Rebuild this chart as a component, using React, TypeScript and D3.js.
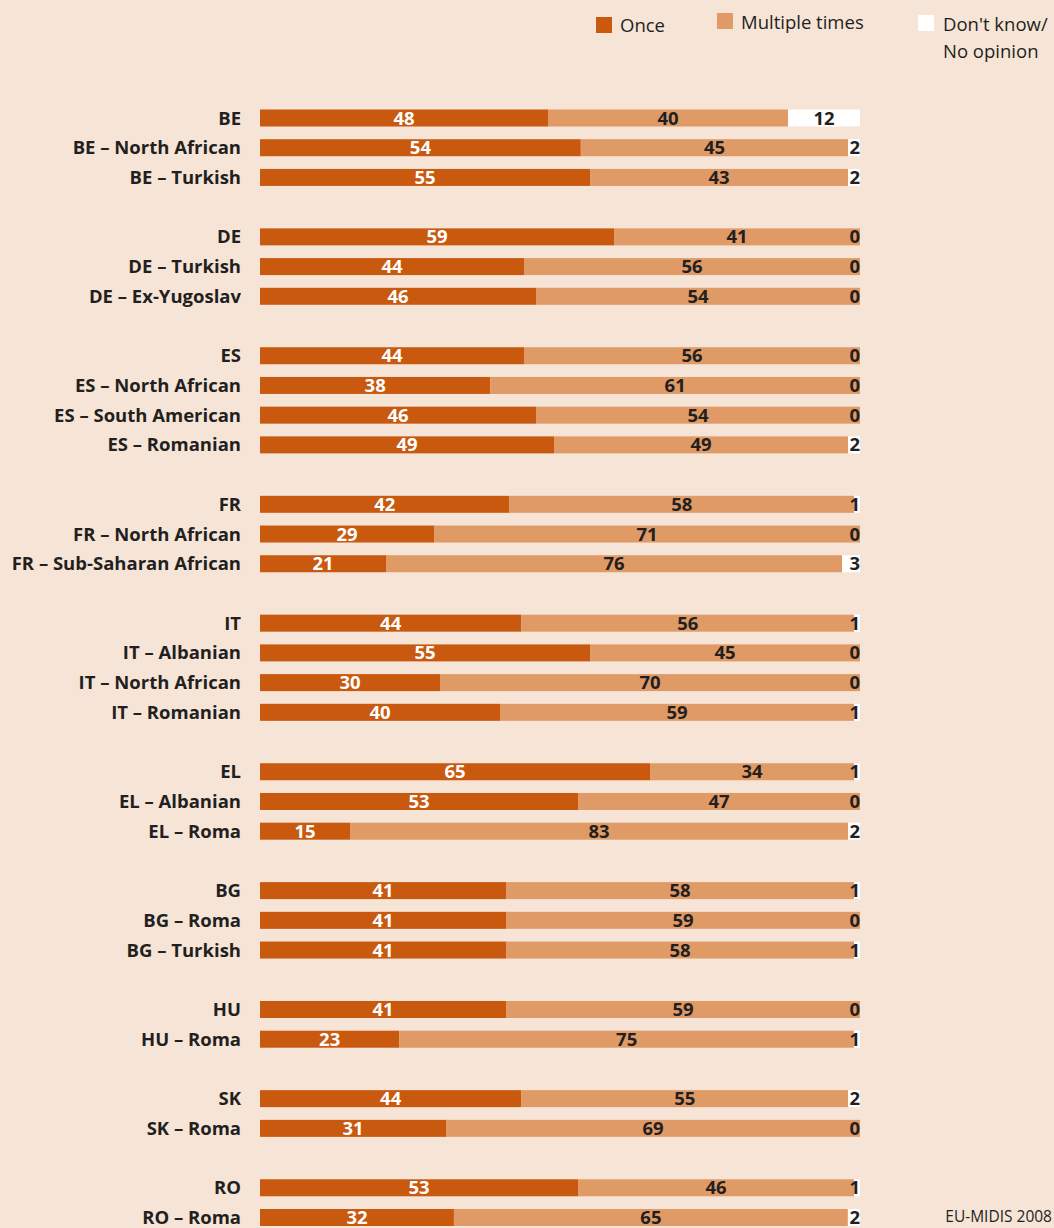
import React from "react";
import * as d3 from "d3";

const groups: string[][] = [
  ["BE", "BE – North African", "BE – Turkish"],
  ["DE", "DE – Turkish", "DE – Ex-Yugoslav"],
  ["ES", "ES – North African", "ES – South American", "ES – Romanian"],
  ["FR", "FR – North African", "FR – Sub-Saharan African"],
  ["IT", "IT – Albanian", "IT – North African", "IT – Romanian"],
  ["EL", "EL – Albanian", "EL – Roma"],
  ["BG", "BG – Roma", "BG – Turkish"],
  ["HU", "HU – Roma"],
  ["SK", "SK – Roma"],
  ["RO", "RO – Roma"],
];

const categories: string[] = groups.flat();
const once: number[] = [48, 54, 55, 59, 44, 46, 44, 38, 46, 49, 42, 29, 21, 44, 55, 30, 40, 65, 53, 15, 41, 41, 41, 41, 23, 44, 31, 53, 32];
const multiple: number[] = [40, 45, 43, 41, 56, 54, 56, 61, 54, 49, 58, 71, 76, 56, 45, 70, 59, 34, 47, 83, 58, 59, 58, 59, 75, 55, 69, 46, 65];
const dontKnow: number[] = [12, 2, 2, 0, 0, 0, 0, 0, 0, 2, 1, 0, 3, 1, 0, 0, 1, 1, 0, 2, 1, 0, 1, 0, 1, 2, 0, 1, 2];

const legendLabels = ["Once", "Multiple times", "Don't know/\nNo opinion"];
const source = "EU-MIDIS 2008";

const W = 1054;
const H = 1228;
const BG = "#f6e5d7";
const C_ONCE = "#c8590f";
const C_MULT = "#e09a66";
const C_DK = "#ffffff";
const TXT = "#231f20";
const FONT = "'Open Sans', 'Noto Sans', sans-serif";

type Row = { cat: string; once: number; multiple: number; dk: number };
const rows: Row[] = categories.map((c, i) => ({ cat: c, once: once[i], multiple: multiple[i], dk: dontKnow[i] }));

const slots: string[] = [];
groups.forEach((g, gi) => {
  if (gi > 0) slots.push(`__gap${gi}`);
  g.forEach((c) => slots.push(c));
});

export default function App() {
  const y = d3.scalePoint<string>().domain(slots).range([118, 1217.5]);
  const x = d3.scaleLinear().domain([0, 1]).range([260, 860]);
  const barH = 17;
  const keys = ["once", "multiple", "dk"];
  const stacked = d3.stack<Row>().keys(keys).offset(d3.stackOffsetExpand)(rows);
  const colors: Record<string, string> = { once: C_ONCE, multiple: C_MULT, dk: C_DK };
  const labelColors: Record<string, string> = { once: "#ffffff", multiple: TXT, dk: TXT };

  const legendItems = [
    { sx: 596, sy: 17, tx: 620, ty: 32, color: C_ONCE, label: legendLabels[0] },
    { sx: 717, sy: 13, tx: 741, ty: 29, color: C_MULT, label: legendLabels[1] },
    { sx: 918, sy: 15, tx: 943, ty: 31, color: C_DK, label: legendLabels[2] },
  ];

  return (
    <svg width={W} height={H} style={{ display: "block", position: "absolute", left: 0, top: 0 }} fontFamily={FONT}>
      <rect x={0} y={0} width={W} height={H} fill={BG} />
      {legendItems.map((l, i) => (
        <g key={i}>
          <rect x={l.sx} y={l.sy} width={16} height={16} fill={l.color} />
          <text x={l.tx} y={l.ty} fontSize={18.5} fill={TXT}>
            {l.label.split("\n").map((s, j) => (
              <tspan key={j} x={l.tx} dy={j === 0 ? 0 : 27}>{s}</tspan>
            ))}
          </text>
        </g>
      ))}
      {rows.map((r) => (
        <text key={r.cat} x={241} y={(y(r.cat) as number) + 6.5} textAnchor="end" fontSize={18.5} fontWeight={700} fill={TXT}>
          {r.cat}
        </text>
      ))}
      {stacked.map((series) => (
        <g key={series.key}>
          {series.map((d, i) => {
            const cy = y(rows[i].cat) as number;
            const x0 = x(d[0]);
            const x1 = x(d[1]);
            return <rect key={i} x={x0} y={cy - barH / 2} width={Math.max(0, x1 - x0)} height={barH} fill={colors[series.key]} />;
          })}
        </g>
      ))}
      {stacked.map((series) => (
        <g key={series.key + "-l"}>
          {series.map((d, i) => {
            const cy = y(rows[i].cat) as number;
            const x0 = x(d[0]);
            const x1 = x(d[1]);
            const v = (rows[i] as any)[series.key] as number;
            const narrow = series.key === "dk" && x1 - x0 < 30;
            return (
              <text
                key={i}
                x={narrow ? 860 : (x0 + x1) / 2}
                y={cy + 6.5}
                textAnchor={narrow ? "end" : "middle"}
                fontSize={18.5}
                fontWeight={700}
                fill={labelColors[series.key]}
              >
                {v}
              </text>
            );
          })}
        </g>
      ))}
      <text x={1052} y={1222} textAnchor="end" fontSize={15.5} fill={TXT}>{source}</text>
    </svg>
  );
}
